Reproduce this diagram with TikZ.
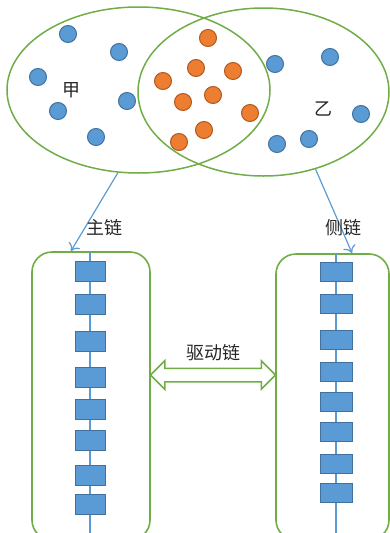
\documentclass[tikz,border=0pt]{standalone}
\usepackage{fontspec}
\newfontfamily\cjk{Noto Sans CJK SC}
\usetikzlibrary{shapes, shapes.arrows, arrows, arrows.meta, positioning}
\definecolor{setgreen}{HTML}{70AD47}
\definecolor{dotblue}{HTML}{5B9BD5}
\definecolor{blueedge}{HTML}{41719C}
\definecolor{dotorange}{HTML}{ED7D31}
\definecolor{orangeedge}{HTML}{AE5A21}

\begin{document}
\begin{tikzpicture}[x=1pt, y=-1pt,
	set/.style={ellipse, draw=setgreen, line width=1.5pt, inner sep=0pt},
	chainbox/.style={rectangle, rounded corners=20pt, draw=setgreen, line width=1.6pt, inner sep=0pt},
	link/.style={rectangle, fill=dotblue, draw=blueedge, line width=1pt, inner sep=0pt},
	feed/.style={-{To[length=7pt, width=13pt]}, dotblue, line width=1.2pt},
	word/.style={font=\cjk\fontsize{18}{21}\selectfont, text=black!85}]
	\clip (0,0) rectangle (390,533);

	% the two sets
	\node[set, minimum width=263, minimum height=166] (jia) at (138.5,90) {};
	\node[set, minimum width=251, minimum height=168] (yi) at (263.5,92) {};
	\foreach \x/\y in {68/34, 119/52, 38/77, 58/111, 127/101, 96/137, 275/64, 330/57, 361/114, 277/144, 309/139}
		\filldraw[fill=dotblue, draw=blueedge, line width=1pt] (\x,\y) circle (8.5);
	\foreach \x/\y in {208/38, 196/68, 233/71, 163/81, 213/95, 183/102, 250/113, 204/130, 179/142}
		\filldraw[fill=dotorange, draw=orangeedge, line width=1pt] (\x,\y) circle (8.5);
	\node[word] (jialabel) at (71,90) {甲};
	\node[word] (yilabel) at (323,109) {乙};

	% main chain and side chain
	\node[chainbox, minimum width=118, minimum height=288] (zhu) at (91,396) {};
	\node[chainbox, minimum width=113, minimum height=286] (ce) at (332.5,397) {};
	\draw[dotblue, line width=1.2pt] (90,252) -- (90,540);
	\draw[dotblue, line width=1.2pt] (336,254) -- (336,540);
	\foreach \y [count=\i] in {271, 304, 341, 377, 409, 440, 475, 504}
		\node[link, minimum width=30, minimum height=20] (zhu\i) at (90,\y) {};
	\foreach \y [count=\i] in {272, 304, 340, 372, 402, 432, 464, 493}
		\node[link, minimum width=32, minimum height=19] (ce\i) at (336,\y) {};

	% feeds from the sets
	\coordinate (zhuin) at (71,251);
	\coordinate (cein) at (352,253);
	\draw[feed] (jia.-104.5) -- (zhuin);
	\draw[feed] (yi.-56) -- (cein);
	\node[word] (zhulabel) at (104,228) {主链};
	\node[word] (celabel) at (343,228) {侧链};

	% drive chain
	\node[double arrow, draw=setgreen, fill=white, line width=1.5pt, inner xsep=0pt, inner ysep=6pt,
		minimum height=125, double arrow head extend=7.5pt] (drive) at (213,375) {};
	\node[word, above=3pt of drive] (drivelabel) {驱动链};
\end{tikzpicture}
\end{document}
